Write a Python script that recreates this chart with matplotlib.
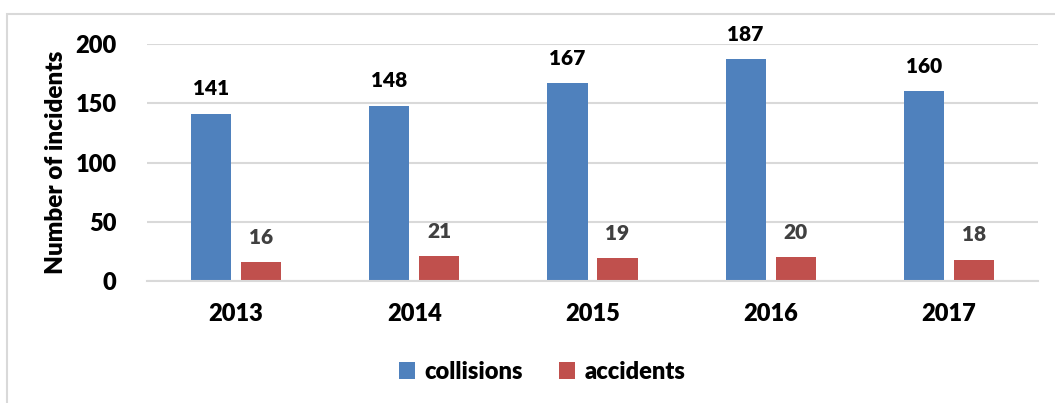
import matplotlib.pyplot as plt
import numpy as np
from matplotlib.patches import Rectangle

years = ['2013', '2014', '2015', '2016', '2017']
collisions = [141, 148, 167, 187, 160]
accidents = [16, 21, 19, 20, 18]

plt.rcParams['font.family'] = ['Lato', 'DejaVu Sans']
plt.rcParams['font.weight'] = 'heavy'

fig = plt.figure(figsize=(10.55, 4.03), dpi=100)
# light frame around the chart
fig.patches.append(Rectangle((7 / 1055, -0.1), 1.2, 1 - 14 / 403 + 0.1,
                             transform=fig.transFigure, fill=False,
                             edgecolor='#d9d9d9', linewidth=1.5))

ax = fig.add_axes([147 / 1055, 1 - 281 / 403, (1038 - 147) / 1055, (281 - 44) / 403])

x = np.arange(len(years))
w = 0.225
gap = 0.056
b1 = ax.bar(x - (w + gap) / 2, collisions, w, color='#4F81BD', label='collisions')
b2 = ax.bar(x + (w + gap) / 2, accidents, w, color='#C0504D', label='accidents')

for rect, v in zip(b1, collisions):
    ax.annotate(str(v), (rect.get_x() + rect.get_width() / 2, v),
                xytext=(0, 25), textcoords='offset pixels',
                ha='center', va='center', fontsize=15, fontweight='heavy', color='black')
for rect, v in zip(b2, accidents):
    ax.annotate(str(v), (rect.get_x() + rect.get_width() / 2, v),
                xytext=(0, 25), textcoords='offset pixels',
                ha='center', va='center', fontsize=15, fontweight='heavy', color='#404040')

ax.set_xlim(-0.5, len(years) - 0.5)
ax.set_ylim(0, 200)
ax.set_yticks([0, 50, 100, 150, 200])
ax.set_xticks(x)
ax.set_xticklabels(years)
ax.tick_params(axis='both', length=0, labelsize=17)
ax.tick_params(axis='x', pad=16)
ax.tick_params(axis='y', pad=22)
ax.yaxis.grid(True, color='#d9d9d9', linewidth=1.5)
ax.set_axisbelow(True)
for s in ['top', 'right', 'left']:
    ax.spines[s].set_visible(False)
ax.spines['bottom'].set_color('#d9d9d9')
ax.spines['bottom'].set_linewidth(1.5)

ax.set_ylabel('Number of incidents', fontsize=17.5, fontweight='heavy', labelpad=6)

fig.legend(loc='center', bbox_to_anchor=(542 / 1055, 1 - 372 / 403), ncol=2,
           frameon=False, fontsize=17, handlelength=0.7, handleheight=0.7,
           columnspacing=1.5, handletextpad=0.4)

fig.savefig('out.png', dpi=100)
